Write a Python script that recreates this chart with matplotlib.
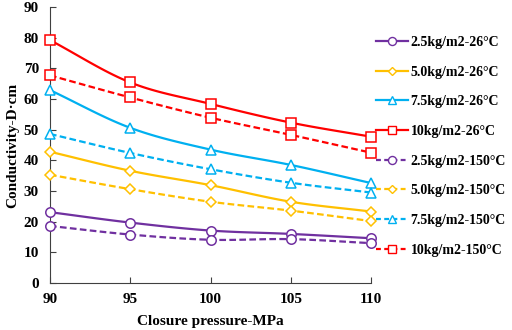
import numpy as np
import matplotlib
matplotlib.use("Agg")
import matplotlib.pyplot as plt
from matplotlib.lines import Line2D

plt.rcParams['font.family'] = ['Liberation Serif', 'DejaVu Serif']
plt.rcParams['font.weight'] = 'bold'

pressure = [90, 95, 100, 105, 110]
labels = ["2.5kg/m2-26°C", "5.0kg/m2-26°C", "7.5kg/m2-26°C", "10kg/m2-26°C",
          "2.5kg/m2-150°C", "5.0kg/m2-150°C", "7.5kg/m2-150°C", "10kg/m2-150°C"]
c25_26 = [23.1, 19.7, 17.1, 16.0, 14.6]
c50_26 = [42.8, 36.6, 31.9, 26.5, 23.3]
c75_26 = [62.9, 50.6, 43.5, 38.5, 32.6]
c10_26 = [79.2, 65.4, 58.4, 52.3, 47.7]
c25_150 = [18.6, 15.8, 14.1, 14.3, 13.0]
c50_150 = [35.3, 30.6, 26.5, 23.6, 20.2]
c75_150 = [48.6, 42.4, 37.1, 32.7, 29.5]
c10_150 = [67.7, 60.5, 53.9, 48.3, 42.5]
series = [c25_26, c50_26, c75_26, c10_26, c25_150, c50_150, c75_150, c10_150]

colors = ['#7030A0', '#FFC000', '#00B0F0', '#FF0000'] * 2
markers = ['o', 'D', '^', 's'] * 2
msizes = [6.8, 5.0, 6.8, 6.5] * 2
styles = ['-'] * 4 + ['--'] * 4


def smooth(x, y, n=20):
    x = np.asarray(x, float); y = np.asarray(y, float)
    px = np.concatenate([[2 * x[0] - x[1]], x, [2 * x[-1] - x[-2]]])
    py = np.concatenate([[2 * y[0] - y[1]], y, [2 * y[-1] - y[-2]]])
    xs, ys = [], []
    t = np.linspace(0, 1, n)
    for i in range(1, len(px) - 2):
        p0, p1, p2, p3 = [np.array([px[j], py[j]]) for j in range(i - 1, i + 3)]
        b1 = p1 + (p2 - p0) / 6
        b2 = p2 - (p3 - p1) / 6
        pts = ((1 - t) ** 3)[:, None] * p1 + (3 * (1 - t) ** 2 * t)[:, None] * b1 \
            + (3 * (1 - t) * t ** 2)[:, None] * b2 + (t ** 3)[:, None] * p2
        xs.extend(pts[:, 0]); ys.extend(pts[:, 1])
    return xs, ys


fig = plt.figure(figsize=(5.12, 3.3), dpi=100)
ax = fig.add_axes([50 / 512, 47 / 330, 321 / 512, 276 / 330])

handles = []
for s, lab, c, m, ms, ls in zip(series, labels, colors, markers, msizes, styles):
    sx, sy = smooth(pressure, s)
    lsty = (0, (3, 1.5)) if ls == '--' else '-'
    ax.plot(sx, sy, color=c, lw=1.6, ls=lsty, zorder=2)
    ax.plot(pressure, s, ls='none', marker=m, ms=ms, mfc='white', mec=c, mew=1.1, zorder=3,
            clip_on=False)
    hsty = (0, (2.2, 1.5)) if ls == '--' else '-'
    h = Line2D([], [], color=c, lw=1.6, ls=hsty, marker=m, ms=ms * 0.85, mfc='white', mec=c, mew=1.0)
    handles.append(h)

ax.set_xlim(90, 110)
ax.set_ylim(0, 90)
ax.set_xticks(pressure)
ax.set_yticks(range(0, 91, 10))
ax.spines['top'].set_visible(False)
ax.spines['right'].set_visible(False)
ax.spines['left'].set_color('#404040')
ax.spines['bottom'].set_color('#404040')
ax.tick_params(direction='in', length=4, color='#404040', labelsize=11, pad=7)
ax.tick_params(axis='y', pad=8)
for t in ax.get_xticklabels() + ax.get_yticklabels():
    t.set_fontweight('bold')
ax.set_xlabel('Closure pressure-MPa', fontsize=11, fontweight='bold', labelpad=7)
ax.set_ylabel('Conductivity-D·cm', fontsize=11, fontweight='bold', labelpad=3)

fig.legend(handles=handles, labels=labels, loc='upper left', bbox_to_anchor=(376 / 512, 1 - 36 / 330),
           frameon=False, fontsize=10, handlelength=2.3, handletextpad=0.2, labelspacing=1.2,
           borderaxespad=0, borderpad=0)

fig.savefig('out.png', dpi=100)
